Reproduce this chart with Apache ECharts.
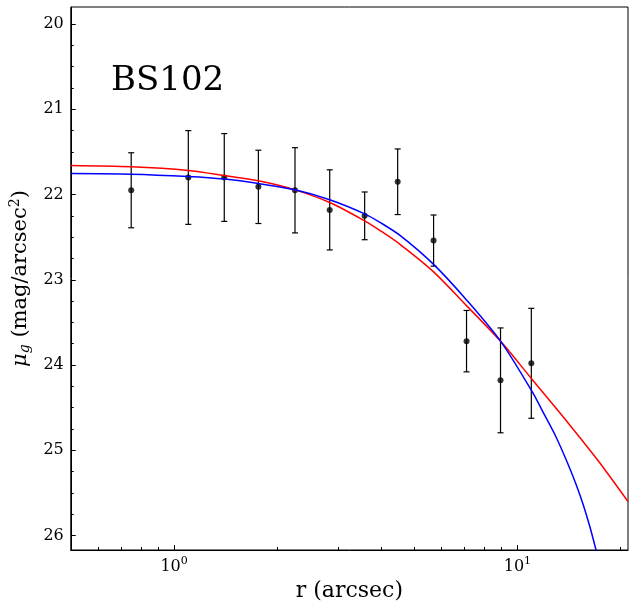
<!DOCTYPE html>
<html lang="en">
<head>
    <meta charset="UTF-8">
    <title>BS102 profile</title>
    <script src="https://cdn.jsdelivr.net/npm/echarts@6.0.0/dist/echarts.min.js"></script>
</head>
<body style="margin:0;background:#fff;">
    <div id="main" style="width:634px;height:608px;"></div>
    <script type="text/javascript">
        // measured points (r in arcsec, mu_g, error)
        var rValues = [0.75, 1.10, 1.40, 1.76, 2.25, 2.84, 3.59, 4.48, 5.70, 7.11, 8.93, 10.98];
        var muValues = [21.95, 21.80, 21.80, 21.91, 21.95, 22.18, 22.25, 21.85, 22.54, 23.72, 24.18, 23.98];
        var muErrors = [0.44, 0.55, 0.515, 0.43, 0.50, 0.47, 0.28, 0.385, 0.30, 0.36, 0.615, 0.645];

        // red fit curve
        var redR = [0.5, 0.75, 1.10, 1.40, 1.76, 2.25, 2.84, 3.59, 3.99, 4.56, 5.70, 7.13, 8.95, 11.01, 13.31, 15.22, 17.39, 21.0];
        var redMu = [21.660, 21.675, 21.718, 21.777, 21.839, 21.945, 22.094, 22.309, 22.425, 22.587, 22.907, 23.309,
                     23.725, 24.163, 24.562, 24.853, 25.149, 25.601];

        // blue fit curve
        var blueR = [0.5, 0.75, 1.10, 1.40, 1.76, 2.25, 2.84, 3.59, 3.99, 4.56, 5.70, 7.13, 8.95, 11.01, 12.04, 12.96,
                     13.92, 14.81, 15.56, 16.27, 16.83, 17.16];
        var blueMu = [21.754, 21.761, 21.789, 21.819, 21.871, 21.945, 22.062, 22.227, 22.330, 22.482, 22.819, 23.242,
                      23.725, 24.304, 24.597, 24.844, 25.126, 25.395, 25.642, 25.900, 26.123, 26.25];

        // ticks
        var xMajor = [1, 10];
        var xMinor = [0.6, 0.7, 0.8, 0.9, 2, 3, 4, 5, 6, 7, 8, 9, 20];
        var yMajor = [20, 21, 22, 23, 24, 25, 26];
        var yMinor = [20.25, 20.5, 20.75, 21.25, 21.5, 21.75, 22.25, 22.5, 22.75, 23.25, 23.5, 23.75,
                      24.25, 24.5, 24.75, 25.25, 25.5, 25.75];

        var font = 'DejaVu Serif';
        var myChart = echarts.init(document.getElementById('main'));

        function pairs(xs, ys) {
            var out = [];
            for (var i = 0; i < xs.length; i++) out.push([xs[i], ys[i]]);
            return out;
        }
        var points = pairs(rValues, muValues);
        var bars = [];
        for (var i = 0; i < rValues.length; i++) bars.push([rValues[i], muValues[i], muErrors[i]]);

        var xAxisBase = {
            type: 'log', logBase: 10, min: 0.5, max: 21,
            gridIndex: 0, position: 'bottom',
            splitLine: { show: false }
        };
        var yAxisBase = {
            type: 'value', inverse: true, min: 19.8, max: 26.17,
            gridIndex: 0, position: 'left',
            splitLine: { show: false }
        };

        myChart.setOption({
            animation: false,
            grid: {
                left: 70, top: 7, width: 558, height: 543,
                show: true, borderColor: '#000', borderWidth: 1
            },
            graphic: [{
                type: 'text',
                left: 111, top: 64,
                style: { text: 'BS102', font: '34px "DejaVu Serif"', fill: '#000' }
            }],
            xAxis: [
                Object.assign({}, xAxisBase, {
                    name: 'r (arcsec)', nameLocation: 'middle', nameGap: 30,
                    nameTextStyle: { fontFamily: font, fontSize: 22, color: '#000' },
                    axisLine: { lineStyle: { color: '#000', width: 1 } },
                    axisTick: { inside: true, length: 5, customValues: xMajor, lineStyle: { color: '#000' } },
                    axisLabel: {
                        customValues: xMajor, margin: 6,
                        formatter: function (v) {
                            return '{b|10}{s|' + Math.round(Math.log10(v)) + '}';
                        },
                        rich: {
                            b: { fontFamily: font, fontSize: 16, color: '#000' },
                            s: { fontFamily: font, fontSize: 11, color: '#000', padding: [0, 0, 11, 0] }
                        }
                    }
                }),
                Object.assign({}, xAxisBase, {
                    axisLine: { show: false },
                    axisLabel: { show: false },
                    axisTick: { inside: true, length: 3, customValues: xMinor, lineStyle: { color: '#000' } }
                })
            ],
            yAxis: [
                Object.assign({}, yAxisBase, {
                    name: '{i|μ}{sub|g}{n| (mag/arcsec}{sup|2}{n|)}',
                    nameLocation: 'middle', nameGap: 31, nameRotate: 90,
                    nameTextStyle: {
                        rich: {
                            i: { fontFamily: font, fontStyle: 'italic', fontSize: 21, color: '#000' },
                            sub: { fontFamily: font, fontStyle: 'italic', fontSize: 14, color: '#000', padding: [9, 0, 0, 0] },
                            n: { fontFamily: font, fontSize: 21, color: '#000' },
                            sup: { fontFamily: font, fontSize: 14, color: '#000', padding: [0, 0, 12, 0] }
                        }
                    },
                    axisLine: { lineStyle: { color: '#000', width: 1 } },
                    axisTick: { inside: true, length: 5, customValues: yMajor, lineStyle: { color: '#000' } },
                    axisLabel: {
                        customValues: yMajor, margin: 7,
                        fontFamily: font, fontSize: 16, color: '#000'
                    }
                }),
                Object.assign({}, yAxisBase, {
                    axisLine: { show: false },
                    axisLabel: { show: false },
                    axisTick: { inside: true, length: 3, customValues: yMinor, lineStyle: { color: '#000' } }
                })
            ],
            series: [
                {
                    type: 'line', name: 'red', data: pairs(redR, redMu),
                    smooth: 0.3, showSymbol: false, clip: true,
                    lineStyle: { color: '#ff0000', width: 1.5 }
                },
                {
                    type: 'line', name: 'blue', data: pairs(blueR, blueMu),
                    smooth: 0.3, showSymbol: false, clip: true,
                    lineStyle: { color: '#0000ff', width: 1.5 }
                },
                {
                    type: 'custom', name: 'err', data: bars,
                    encode: { x: 0, y: 1 },
                    renderItem: function (params, api) {
                        var x = api.value(0), y = api.value(1), e = api.value(2);
                        var top = api.coord([x, y - e]);
                        var bot = api.coord([x, y + e]);
                        var w = 3;
                        var st = { stroke: '#000', lineWidth: 1.2 };
                        return {
                            type: 'group',
                            children: [
                                { type: 'line', shape: { x1: top[0], y1: top[1], x2: bot[0], y2: bot[1] }, style: st },
                                { type: 'line', shape: { x1: top[0] - w, y1: top[1], x2: top[0] + w, y2: top[1] }, style: st },
                                { type: 'line', shape: { x1: bot[0] - w, y1: bot[1], x2: bot[0] + w, y2: bot[1] }, style: st }
                            ]
                        };
                    }
                },
                {
                    type: 'scatter', name: 'data', data: points,
                    symbol: 'circle', symbolSize: 6,
                    itemStyle: { color: '#000' }
                }
            ]
        });
    </script>
</body>
</html>
